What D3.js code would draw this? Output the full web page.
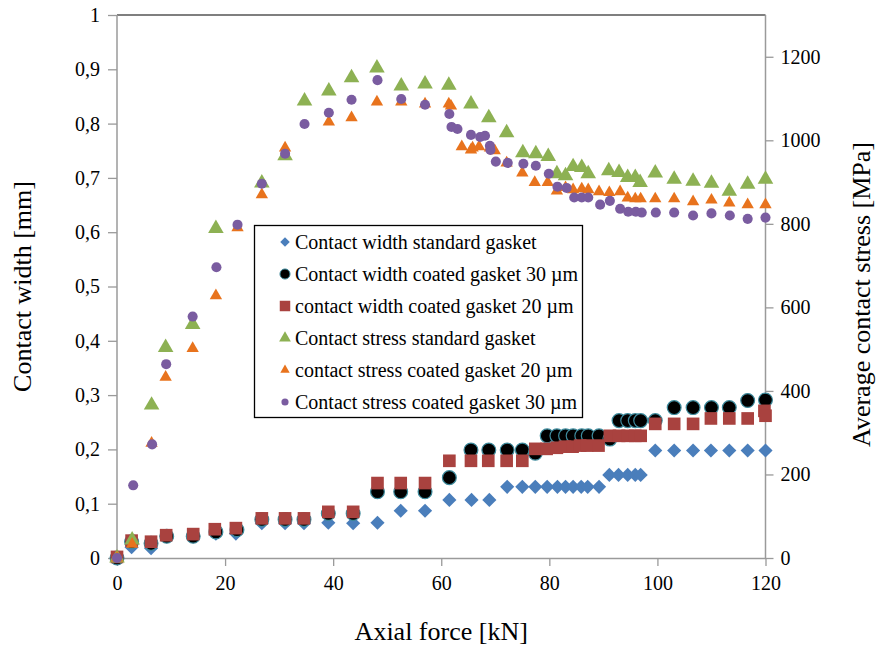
<!DOCTYPE html>
<html><head><meta charset="utf-8">
<script src="https://cdn.jsdelivr.net/npm/d3@7"></script>
<style>
html,body{margin:0;padding:0;background:#fff;}
svg{display:block;font-family:"Liberation Serif","Times New Roman",serif;}
</style></head>
<body><svg id="chart" width="878" height="646"></svg>
<script>
// ---- data ----
const xTicks = [0,20,40,60,80,100,120];
const leftTicks = [0,0.1,0.2,0.3,0.4,0.5,0.6,0.7,0.8,0.9,1];
const rightTicks = [0,200,400,600,800,1000,1200];

const widthStd = [[0,0],[2.7,0.02],[6.3,0.018],[9.2,0.04],[14.1,0.04],[18.3,0.045],[22,0.045],[26.8,0.064],[31.1,0.064],[34.6,0.064],[39.1,0.065],[43.7,0.064],[48.2,0.065],[52.5,0.087],[57,0.087],[61.5,0.107],[65.6,0.107],[68.9,0.107],[72.2,0.131],[75,0.131],[77.4,0.131],[79.6,0.131],[81.5,0.131],[83,0.131],[84.4,0.131],[85.9,0.131],[87.1,0.131],[89.2,0.131],[91.1,0.153],[92.8,0.153],[94.5,0.153],[95.9,0.153],[96.9,0.153],[99.6,0.198],[103.1,0.198],[106.6,0.198],[109.9,0.198],[113.3,0.198],[116.7,0.198],[120,0.198]];

const widthC30 = [[0,0],[2.7,0.03],[6.3,0.027],[9.2,0.04],[14.1,0.04],[18.3,0.048],[22.2,0.052],[26.8,0.071],[31.1,0.071],[34.6,0.071],[39.1,0.082],[43.7,0.082],[48.2,0.122],[52.5,0.122],[57,0.122],[61.5,0.148],[65.5,0.199],[68.8,0.199],[72.2,0.199],[75,0.199],[77.4,0.193],[79.6,0.225],[81.4,0.225],[83,0.225],[84.4,0.225],[86,0.225],[87.2,0.225],[89.2,0.225],[91.2,0.219],[92.9,0.253],[94.5,0.253],[95.9,0.253],[96.9,0.253],[99.6,0.253],[103.1,0.277],[106.6,0.277],[110,0.277],[113.3,0.277],[116.7,0.29],[120,0.291]];

const widthC20 = [[0,0.002],[2.7,0.032],[6.3,0.03],[9.1,0.042],[14.1,0.044],[18.1,0.053],[22,0.055],[26.8,0.073],[31.1,0.073],[34.6,0.073],[39.1,0.085],[43.7,0.085],[48.2,0.138],[52.5,0.138],[57,0.138],[61.5,0.179],[65.5,0.179],[68.7,0.179],[72.1,0.179],[75,0.179],[77.4,0.201],[79.5,0.201],[81.4,0.203],[82.9,0.205],[84.3,0.205],[85.7,0.207],[87,0.207],[89.1,0.207],[91.2,0.225],[92.9,0.225],[94.5,0.225],[95.9,0.225],[96.9,0.225],[99.6,0.247],[103.1,0.247],[106.6,0.247],[109.9,0.257],[113.3,0.257],[116.7,0.257],[119.8,0.271],[120,0.262]];

const stressStd = [[0,0],[2.8,43],[6.4,366],[9,504],[14,559],[18.3,789],[26.8,898],[31.1,963],[34.7,1094],[39.2,1118],[43.4,1150],[48.1,1173],[52.6,1130],[57,1135],[61.4,1132],[65.5,1087],[68.8,1054],[72.1,1018],[75.1,970],[77.5,968],[79.8,961],[81.4,920],[83,915],[84.4,937],[86,935],[87.2,920],[91,927],[92.9,923],[94.5,911],[95.9,911],[96.8,899],[99.6,922],[103.1,907],[106.6,902],[110,897],[113.3,878],[116.7,895],[120,907]];

const stressC20 = [[0,0],[2.8,33],[6.4,275],[9,433],[14,502],[18.3,628],[22.3,791],[26.8,870],[31.1,982],[39.2,1044],[43.4,1054],[48.1,1092],[52.6,1092],[57,1087],[61.4,1087],[61.8,1082],[63.8,985],[65.5,977],[65.8,982],[67,985],[69,982],[69.9,975],[72.1,946],[75,922],[77.3,899],[79.7,899],[81.4,879],[83,887],[84.4,882],[86,884],[87.2,882],[89.2,877],[91.1,875],[93.1,877],[94.5,862],[95.9,860],[96.9,860],[99.6,860],[103.1,860],[106.6,853],[110,857],[113.3,850],[116.7,846],[120,846]];

const stressC30 = [[0,0],[3,174],[6.5,272],[9.1,464],[14,578],[18.4,696],[22.3,798],[26.8,896],[31.1,968],[34.7,1039],[39.2,1066],[43.4,1097],[48.2,1144],[52.6,1099],[57,1085],[61.5,1063],[61.9,1032],[63,1027],[65.5,1013],[67.2,1008],[68.1,1011],[69,987],[69.1,977],[70.1,949],[72.3,946],[75.2,944],[77.5,939],[79.9,920],[81.5,889],[83.2,886],[84.6,863],[86,863],[87.2,863],[89.4,846],[91.2,855],[93.1,836],[94.6,829],[96,829],[97.1,827],[99.7,827],[103.1,827],[106.6,820],[110,825],[113.4,820],[116.7,812],[120,815]];

const seriesNames = ["Contact width standard gasket","Contact width coated gasket 30 \u00b5m","contact width coated gasket 20 \u00b5m","Contact stress standard gasket","contact stress coated gasket 20 \u00b5m","Contact stress coated gasket 30 \u00b5m"];

// ---- layout ----
const L = 117, R = 765.5, T = 15, B = 558;
const svg = d3.select("#chart");
const x = d3.scaleLinear().domain([0,120]).range([L,R]);
const yL = d3.scaleLinear().domain([0,1]).range([B,T]);
const yR = d3.scaleLinear().domain([0,1300]).range([B,T]);
const fmt = d => String(d).replace(".", ",");

const series = [
  {data: widthStd, axis: "L", shape: "diamond", size: 100, fill: "#4A7EBB", stroke: "none", lsize: 45},
  {data: widthC30, axis: "L", shape: "circle", size: 150, fill: "#000", stroke: "#3d8a9c", lsize: 80},
  {data: widthC20, axis: "L", shape: "square", size: 160, fill: "#A9423F", stroke: "none", lsize: 110},
  {data: stressStd, axis: "R", shape: "triangle", size: 105, fill: "#8DB153", stroke: "none", lsize: 60},
  {data: stressC20, axis: "R", shape: "triangle", size: 66, fill: "#E8731D", stroke: "none", lsize: 38},
  {data: stressC30, axis: "R", shape: "circle", size: 80, fill: "#7A5CA0", stroke: "none", lsize: 40}
];
const symType = {diamond: d3.symbolSquare, circle: d3.symbolCircle, square: d3.symbolSquare, triangle: d3.symbolTriangle};

// frame top
svg.append("line").attr("x1",L).attr("x2",R).attr("y1",T).attr("y2",T).attr("stroke","#555").attr("stroke-width",1.3);

// axes
const gx = svg.append("g").attr("transform",`translate(0,${B})`)
  .call(d3.axisBottom(x).tickValues(xTicks).tickSize(8).tickPadding(10).tickSizeOuter(0));
const gl = svg.append("g").attr("transform",`translate(${L},0)`)
  .call(d3.axisLeft(yL).tickValues(leftTicks).tickFormat(fmt).tickSize(9).tickPadding(8).tickSizeOuter(0));
const gr = svg.append("g").attr("transform",`translate(${R},0)`)
  .call(d3.axisRight(yR).tickValues(rightTicks).tickFormat(d3.format("d")).tickSize(8).tickPadding(7).tickSizeOuter(0));
[gx,gl,gr].forEach(g=>{
  g.selectAll(".domain").attr("stroke","#9a9a9a").attr("stroke-width",1.5);
  g.selectAll(".tick line").attr("stroke","#9a9a9a").attr("stroke-width",1.3);
  g.selectAll("text").attr("font-family","Liberation Serif, serif").attr("font-size",20).attr("fill","#000");
});
gl.select(".domain").attr("d",`M0,${B}V${T}`);
gr.select(".domain").attr("d",`M0,${B}V${T}`);

// markers
series.forEach(s=>{
  const sym = d3.symbol().type(symType[s.shape]).size(s.size);
  const yS = s.axis === "L" ? yL : yR;
  svg.append("g").selectAll("path").data(s.data).join("path")
    .attr("d", sym)
    .attr("transform", d => `translate(${x(d[0])},${yS(d[1])})` + (s.shape === "diamond" ? " rotate(45)" : ""))
    .attr("fill", s.fill)
    .attr("stroke", s.stroke)
    .attr("stroke-width", s.stroke === "none" ? 0 : 1.2);
});

// legend
const lg = svg.append("g");
lg.append("rect").attr("x",254.5).attr("y",225.5).attr("width",328).attr("height",192)
  .attr("fill","#fff").attr("stroke","#000").attr("stroke-width",1.3);
seriesNames.forEach((name,i)=>{
  const s = series[i];
  const cy = 242 + i*32;
  lg.append("path").attr("d", d3.symbol().type(symType[s.shape]).size(s.lsize)())
    .attr("transform",`translate(285,${cy})` + (s.shape === "diamond" ? " rotate(45)" : ""))
    .attr("fill", s.fill).attr("stroke", s.stroke).attr("stroke-width", s.stroke === "none" ? 0 : 1);
  lg.append("text").attr("x",295).attr("y",cy+6.5).attr("font-size",20).attr("textLength", null).text(name);
});

// axis titles
svg.append("text").attr("x",(L+R)/2).attr("y",640).attr("text-anchor","middle").attr("font-size",26).text("Axial force [kN]");
svg.append("text").attr("transform",`translate(31,${(T+B)/2}) rotate(-90)`).attr("text-anchor","middle").attr("font-size",26).text("Contact width [mm]");
svg.append("text").attr("transform",`translate(870,${(T+B)/2 + 8}) rotate(-90)`).attr("text-anchor","middle").attr("font-size",26).text("Average contact stress [MPa]");
</script></body></html>
